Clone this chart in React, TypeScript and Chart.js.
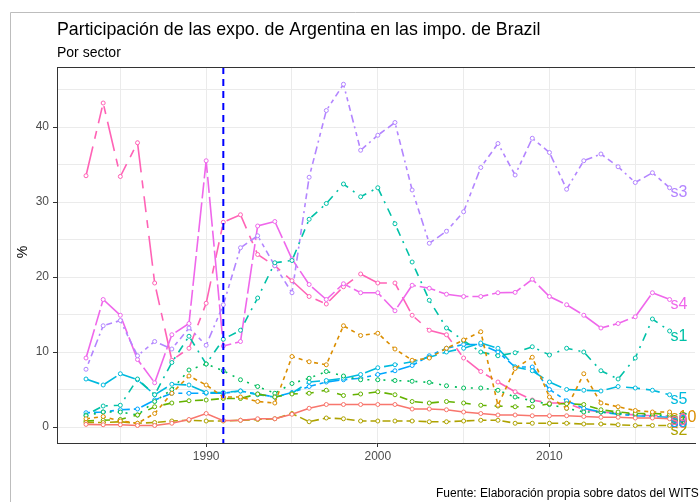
import React, { useEffect, useRef } from "react";
import { Chart, registerables } from "chart.js";
Chart.register(...registerables);

const years = [1983, 1984, 1985, 1986, 1987, 1988, 1989, 1990, 1991, 1992, 1993, 1994, 1995, 1996, 1997, 1998, 1999, 2000, 2001, 2002, 2003, 2004, 2005, 2006, 2007, 2008, 2009, 2010, 2011, 2012, 2013, 2014, 2015, 2016, 2017];

const sRed = [0.35, 0.3, 0.3, 0.2, 0.2, 0.5, 1.0, 1.8, 0.85, 0.9, 1.1, 1.1, 1.7, 2.5, 3.0, 3.0, 3.0, 3.0, 3.0, 2.4, 2.4, 2.3, 2.0, 1.8, 1.6, 1.6, 1.5, 1.5, 1.5, 1.4, 1.3, 1.3, 1.2, 1.2, 1.1];
const sOrange = [1.1, 1.4, 0.8, 0.5, 1.8, 4.5, 6.8, 5.6, 4.0, 4.0, 3.4, 3.2, 9.4, 8.7, 8.3, 13.5, 12.2, 12.5, 10.4, 8.9, 9.2, 10.5, 11.6, 12.7, 2.9, 7.8, 9.3, 4.0, 2.5, 7.1, 3.2, 2.7, 2.2, 2.0, 2.0];
const sOlive = [0.6, 0.6, 0.7, 0.5, 0.6, 0.8, 0.9, 0.8, 0.8, 0.9, 1.0, 1.1, 1.8, 0.7, 1.2, 1.1, 0.8, 0.8, 0.8, 0.8, 0.7, 0.7, 0.8, 0.9, 0.9, 0.5, 0.5, 0.5, 0.5, 0.4, 0.4, 0.3, 0.2, 0.2, 0.2];
const sGreen = [0.8, 0.9, 1.0, 1.6, 2.7, 3.2, 3.5, 3.6, 3.8, 3.8, 4.4, 4.0, 4.4, 4.5, 4.9, 4.2, 4.4, 4.7, 4.3, 3.4, 3.2, 3.4, 3.2, 2.9, 2.8, 2.7, 2.7, 3.1, 3.1, 3.0, 2.3, 2.0, 1.8, 1.8, 1.7];
const sGreen2 = [1.5, 2.0, 2.0, 1.6, 3.4, 5.0, 7.6, 8.4, 7.5, 6.3, 5.4, 4.5, 5.8, 6.5, 7.4, 6.8, 6.3, 6.3, 6.2, 6.1, 5.95, 5.5, 5.2, 5.2, 4.9, 4.0, 3.5, 3.0, 2.5, 2.0, 2.0, 1.8, 1.7, 1.6, 1.5];
const sTeal = [1.6, 2.8, 2.9, 6.4, 4.3, 8.6, 12.1, 8.4, 11.7, 12.9, 17.2, 21.9, 22.2, 27.7, 29.8, 32.4, 30.7, 31.9, 27.1, 22.0, 16.9, 13.2, 11.5, 10.0, 9.5, 9.9, 10.7, 9.6, 10.5, 10.0, 7.5, 6.4, 9.2, 14.4, 12.8];
const sCyan = [6.4, 5.6, 7.1, 6.3, 4.3, 5.7, 5.6, 4.6, 4.6, 4.8, 4.3, 4.0, 4.5, 6.0, 6.2, 6.5, 7.0, 7.9, 8.3, 8.7, 9.3, 10.0, 10.5, 11.2, 10.5, 8.0, 7.5, 6.0, 5.0, 4.9, 4.8, 5.4, 5.2, 4.9, 4.3];
const sBlue = [1.9, 2.0, 2.3, 2.4, 3.6, 4.5, 4.5, 4.5, 4.5, 4.8, 4.4, 4.0, 4.6, 5.4, 6.0, 6.3, 6.5, 7.0, 7.5, 8.2, 9.5, 10.5, 11.0, 11.0, 10.0, 8.0, 8.0, 5.0, 3.5, 2.5, 2.0, 1.7, 1.5, 1.4, 1.3];
const sPurple = [7.7, 13.5, 14.2, 9.5, 11.4, 10.4, 13.2, 10.9, 16.3, 23.9, 25.5, 21.5, 17.9, 33.3, 42.2, 45.7, 36.9, 38.9, 40.6, 31.6, 24.5, 26.1, 28.7, 34.6, 37.8, 33.6, 38.5, 36.6, 31.7, 35.5, 36.4, 34.7, 32.6, 33.9, 31.9];
const sMagenta = [9.2, 17.0, 14.9, 9.0, 5.9, 12.3, 13.8, 35.5, 10.8, 11.4, 26.8, 27.4, 22.4, 19.0, 17.0, 19.1, 17.9, 17.9, 15.5, 18.9, 18.5, 17.7, 17.4, 17.4, 17.9, 17.95, 19.7, 17.4, 16.3, 14.9, 13.2, 13.8, 14.7, 17.9, 17.0];
const sPink = [33.5, 43.2, 33.4, 37.9, 19.2, 8.9, 10.5, 16.5, 27.3, 28.3, 23.0, 21.5, 19.5, 17.4, 16.4, 18.7, 20.4, 19.2, 19.2, 14.9, 12.9, 12.3, 9.2, 7.4, 6.0, 4.7, 3.6, 3.2, 3.2, 2.3, 2.0, 1.8, 1.6, 1.5, 1.5];

const seriesValues = [sRed, sOrange, sOlive, sGreen, sGreen2, sTeal, sCyan, sBlue, sPurple, sMagenta, sPink];
const seriesLabels = ["s0", "s10", "s2", "s6", "s7", "s1", "s5", "s8", "s3", "s4", "s9"];
const seriesColors = ["#F8766D", "#DB8E00", "#AEA200", "#64B200", "#00BD5C", "#00C1A7", "#00BADE", "#00A6FF", "#B385FF", "#EF67EB", "#FF63B6"];
const seriesDash = [[], [4, 4], [8, 4], [8, 8], [2, 6], [2, 6, 8, 6], [14, 6], [4, 4, 12, 4], [2, 4, 4, 4, 6, 4, 8, 4], [30, 4, 16, 4], [30, 8, 8, 8, 16, 8, 8, 8]];

const yTicks = [0, 5, 10, 15, 20, 25, 30, 35, 40, 45];
const xTicks = [1985, 1990, 1995, 2000, 2005, 2010, 2015];
const vLineYear = 1991;

const titleText = "Participación de las expo. de Argentina en las impo. de Brazil";
const subtitleText = "Por sector";
const captionText = "Fuente: Elaboración propia sobre datos del WITS";
const yTitle = "%";

const FONT = '"Liberation Sans", Arial, sans-serif';

export default function App() {
  const ref = useRef<HTMLCanvasElement>(null);
  useEffect(() => {
    if (!ref.current) return;
    const decor = {
      id: "decor",
      beforeDraw(chart: any) {
        const ctx = chart.ctx;
        ctx.save();
        ctx.fillStyle = "#ffffff";
        ctx.fillRect(0, 0, chart.width, chart.height);
        ctx.strokeStyle = "#BDBDBD";
        ctx.lineWidth = 1;
        ctx.beginPath();
        ctx.moveTo(10.5, 502);
        ctx.lineTo(10.5, 12.5);
        ctx.lineTo(700, 12.5);
        ctx.stroke();
        ctx.fillStyle = "#000000";
        ctx.font = `17.8px ${FONT}`;
        ctx.textBaseline = "alphabetic";
        ctx.fillText(titleText, 57, 35);
        ctx.font = `14px ${FONT}`;
        ctx.fillText(subtitleText, 57, 57);
        ctx.font = `12px ${FONT}`;
        ctx.fillText(captionText, 436, 497);
        ctx.save();
        ctx.translate(27, 252);
        ctx.rotate(-Math.PI / 2);
        ctx.textAlign = "center";
        ctx.font = `14px ${FONT}`;
        ctx.fillText(yTitle, 0, 0);
        ctx.restore();
        ctx.restore();
      },
      afterDatasetsDraw(chart: any) {
        const ctx = chart.ctx;
        const a = chart.chartArea;
        const xs = chart.scales.x;
        ctx.save();
        const vx = xs.getPixelForValue(vLineYear);
        ctx.strokeStyle = "#0000FF";
        ctx.lineWidth = 2;
        ctx.setLineDash([7, 5]);
        ctx.beginPath();
        ctx.moveTo(vx, a.top);
        ctx.lineTo(vx, a.bottom);
        ctx.stroke();
        ctx.setLineDash([]);
        ctx.font = `16px ${FONT}`;
        ctx.textBaseline = "alphabetic";
        chart.data.datasets.forEach((ds: any, i: number) => {
          const meta = chart.getDatasetMeta(i);
          const pt = meta.data[meta.data.length - 1];
          ctx.fillStyle = ds.borderColor;
          ctx.fillText(seriesLabels[i], pt.x + 1, pt.y + 9.5);
        });
        ctx.strokeStyle = "#333333";
        ctx.lineWidth = 1;
        ctx.beginPath();
        ctx.moveTo(a.left, a.top + 0.5);
        ctx.lineTo(a.right, a.top + 0.5);
        ctx.stroke();
        ctx.restore();
      },
    };
    const chart = new Chart(ref.current, {
      type: "line",
      data: {
        datasets: seriesValues.map((vals, i) => ({
          label: seriesLabels[i],
          data: vals.map((v, j) => ({ x: years[j], y: v })),
          borderColor: seriesColors[i],
          backgroundColor: seriesColors[i],
          borderWidth: 1.6,
          borderDash: seriesDash[i],
          borderCapStyle: "butt",
          tension: 0,
          fill: false,
          pointRadius: 2,
          pointBorderWidth: 1,
          pointBackgroundColor: "#ffffff",
          pointBorderColor: seriesColors[i],
          clip: false,
        })),
      },
      options: {
        responsive: false,
        animation: false,
        devicePixelRatio: 1,
        layout: { padding: { left: 0, top: 67, right: 0, bottom: 0 } },
        plugins: { legend: { display: false }, tooltip: { enabled: false }, title: { display: false } },
        scales: {
          x: {
            type: "linear",
            min: 1981.31,
            max: 2018.48,
            afterBuildTicks: (axis: any) => {
              axis.ticks = xTicks.map((v) => ({ value: v }));
            },
            afterFit: (axis: any) => {
              axis.height = 59;
            },
            ticks: {
              autoSkip: false,
              maxRotation: 0,
              padding: 2,
              color: "#4D4D4D",
              font: { family: FONT, size: 12 },
              callback: (v: any) => (Number(v) % 10 === 0 ? String(v) : ""),
            },
            grid: {
              color: "#EBEBEB",
              lineWidth: 1,
              tickLength: 4,
              tickColor: (c: any) => (c.tick && c.tick.value % 10 === 0 ? "#333333" : "rgba(0,0,0,0)"),
            },
            border: { display: true, color: "#333333", width: 1 },
          },
          y: {
            type: "linear",
            min: -2.133,
            max: 48,
            afterBuildTicks: (axis: any) => {
              axis.ticks = yTicks.map((v) => ({ value: v }));
            },
            afterFit: (axis: any) => {
              axis.width = 57;
            },
            ticks: {
              autoSkip: false,
              padding: 4,
              color: "#4D4D4D",
              font: { family: FONT, size: 12 },
              callback: (v: any) => (Number(v) % 10 === 0 ? String(v) : ""),
            },
            grid: {
              color: "#EBEBEB",
              lineWidth: 1,
              tickLength: 4,
              tickColor: (c: any) => (c.tick && c.tick.value % 10 === 0 ? "#333333" : "rgba(0,0,0,0)"),
            },
            border: { display: true, color: "#333333", width: 1 },
          },
        },
      },
      plugins: [decor],
    } as any);
    return () => chart.destroy();
  }, []);
  return (
    <div style={{ position: "absolute", left: 0, top: 0, width: 700, height: 502, overflow: "hidden" }}>
      <canvas ref={ref} width={700} height={502} style={{ display: "block", width: 700, height: 502 }} />
    </div>
  );
}
